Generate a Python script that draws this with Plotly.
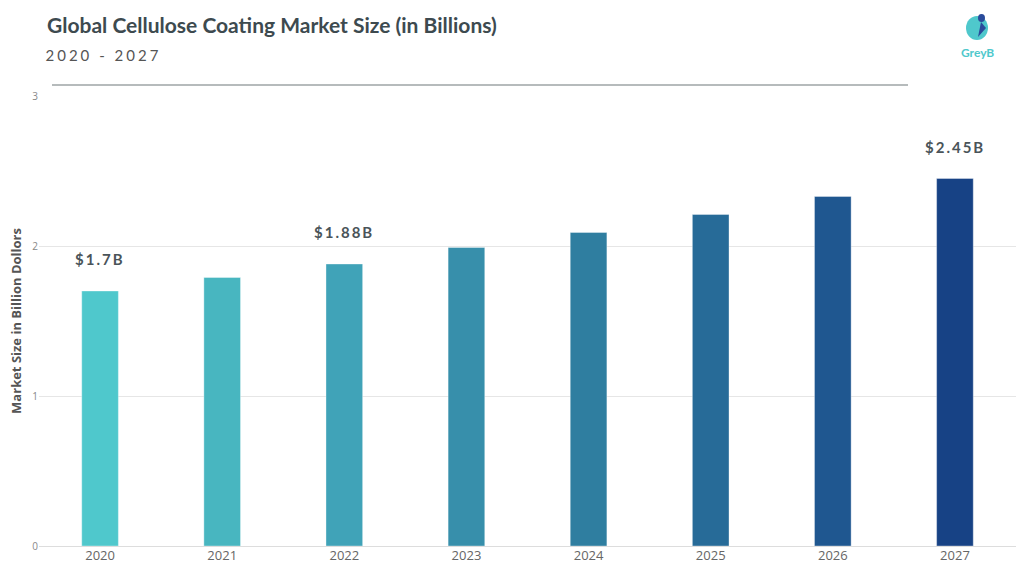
import plotly.graph_objects as go

years = ["2020", "2021", "2022", "2023", "2024", "2025", "2026", "2027"]
values = [1.70, 1.79, 1.88, 1.99, 2.09, 2.21, 2.33, 2.45]
bar_colors = ["#4FC8CC", "#48B6C0", "#40A3B8", "#378FAB", "#2F7EA0", "#276B98", "#1F5790", "#174285"]
label_years = ["2020", "2022", "2027"]
label_texts = ["$1.7B", "$1.88B", "$2.45B"]
y_ticks = [0, 1, 2, 3]

fig = go.Figure()
fig.add_trace(go.Bar(
    x=years, y=values,
    marker=dict(color=bar_colors, line=dict(color="rgba(255,255,255,0.35)", width=1)),
    width=0.3, hoverinfo="x+y", showlegend=False,
))

val_map = dict(zip(years, values))
annotations = []
for yr, txt in zip(label_years, label_texts):
    annotations.append(dict(
        x=years.index(yr), y=val_map[yr], xref="x", yref="y", text=txt, showarrow=False,
        yanchor="bottom", yshift=21,
        font=dict(family="Lato, Open Sans, sans-serif", size=15, color="#4A5459", weight="bold"),
    ))

# Title and subtitle
annotations.append(dict(
    x=(45 - 39) / 977, y=(546 - 25) / 450, xref="paper", yref="paper",
    xanchor="left", yanchor="middle", showarrow=False,
    text="Global Cellulose Coating Market Size (in Billions)",
    font=dict(family="Lato, sans-serif", size=21, color="#3D4A4F", weight="bold"),
))
annotations.append(dict(
    x=(60 - 39) / 977, y=(546 - 55) / 450, xref="paper", yref="paper",
    xanchor="left", yanchor="middle", showarrow=False,
    text="2020 - 2027",
    font=dict(family="Lato, sans-serif", size=15, color="#555555"),
))
# Logo text
annotations.append(dict(
    x=(977 - 39) / 977, y=(546 - 53) / 450, xref="paper", yref="paper",
    xanchor="center", yanchor="middle", showarrow=False,
    text="GreyB",
    font=dict(family="Lato, sans-serif", size=12, color="#4FC8CC", weight="bold"),
))

shapes = [
    dict(type="line", xref="paper", yref="paper",
         x0=(52 - 39) / 977, x1=(908 - 39) / 977,
         y0=(546 - 85) / 450, y1=(546 - 85) / 450,
         line=dict(color="#9EA4A6", width=1.5)),
    # Logo circle
    dict(type="circle", xref="paper", yref="paper",
         x0=(966 - 39) / 977, x1=(988 - 39) / 977,
         y0=(546 - 40) / 450, y1=(546 - 16) / 450,
         fillcolor="#4FC8CC", line=dict(width=0)),
    dict(type="path", xref="paper", yref="paper",
         path="M %f %f L %f %f L %f %f Z" % (
             (981 - 39) / 977, (546 - 22) / 450,
             (986 - 39) / 977, (546 - 28) / 450,
             (978 - 39) / 977, (546 - 37) / 450),
         fillcolor="#2A4B9B", line=dict(width=0)),
    dict(type="circle", xref="paper", yref="paper",
         x0=(978 - 39) / 977, x1=(985 - 39) / 977,
         y0=(546 - 22) / 450, y1=(546 - 14) / 450,
         fillcolor="#2A4B9B", line=dict(width=0)),
]

fig.update_layout(
    width=1024, height=576,
    margin=dict(l=39, r=8, t=96, b=30),
    paper_bgcolor="white", plot_bgcolor="white",
    annotations=annotations, shapes=shapes,
    xaxis=dict(
        type="category", showgrid=False, showline=False, ticks="", automargin=False,
        range=[-0.5, len(years) - 0.5],
        tickfont=dict(family="Open Sans, sans-serif", size=13, color="#666666"),
    ),
    yaxis=dict(
        range=[0, 3], tickvals=y_ticks, showgrid=True, gridcolor="#E6E6E6", automargin=False,
        zeroline=True, zerolinecolor="#DDDDDD", zerolinewidth=1,
        tickfont=dict(family="Open Sans, sans-serif", size=10, color="#888888"),
        title=dict(text="Market Size in Billion Dollors", standoff=7,
                   font=dict(family="Open Sans, sans-serif", size=13, color="#555555", weight="bold")),
    ),
)

post = """
document.body.style.margin = '0';
document.querySelectorAll('g.annotation text').forEach(function(t){
  var s = t.textContent;
  if (s.charAt(0) === '$') { t.style.letterSpacing = '2px'; }
  else if (s === '2020 - 2027') { t.style.letterSpacing = '3px'; }
});
"""
fig.write_html("out.html", post_script=post, config={"displayModeBar": False})
